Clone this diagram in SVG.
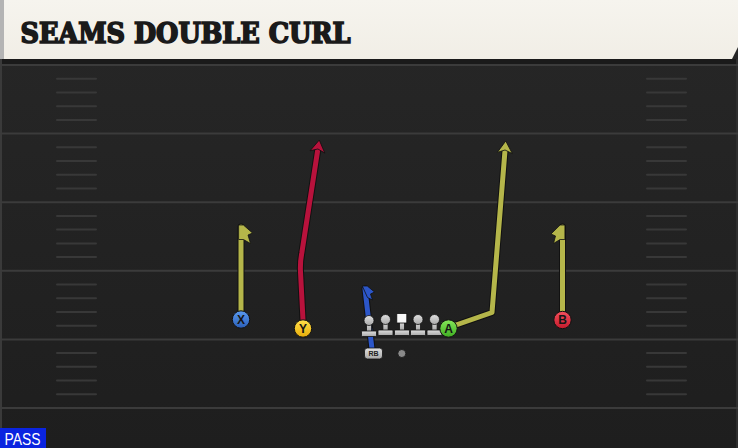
<svg xmlns="http://www.w3.org/2000/svg" width="738" height="448" viewBox="0 0 738 448">
<defs>
<style>
.yl{stroke:#3b3b3b;stroke-width:2}
.hm{stroke:#383838;stroke-width:2;stroke-linecap:round}
.out{fill:none;stroke:#111;stroke-width:7;stroke-linecap:round;stroke-linejoin:round}
.rt{fill:none;stroke-width:5;stroke-linecap:round;stroke-linejoin:round}
.ol{stroke:#b5b64a}
.rd{stroke:#b8123c}
.bl{stroke:#2c56c8}
.pl{stroke:#111;stroke-width:1}
.lt{font-family:"Liberation Sans",Arial,sans-serif;font-weight:bold;font-size:12px;fill:#151515;text-anchor:middle}
.flag{stroke:#111;stroke-width:0.8;stroke-linejoin:round}
</style>
<linearGradient id="field" x1="0" y1="0" x2="0" y2="1">
<stop offset="0" stop-color="#272727"/>
<stop offset="1" stop-color="#1e1e1e"/>
</linearGradient>
<linearGradient id="hdr" x1="0" y1="0" x2="0" y2="1">
<stop offset="0" stop-color="#f6f4ee"/>
<stop offset="1" stop-color="#f1eee6"/>
</linearGradient>
<linearGradient id="gX" x1="0" y1="0" x2="0" y2="1"><stop offset="0" stop-color="#5a9af0"/><stop offset="1" stop-color="#2b5fb8"/></linearGradient>
<linearGradient id="gY" x1="0" y1="0" x2="0" y2="1"><stop offset="0" stop-color="#ffe04a"/><stop offset="1" stop-color="#e8ad0a"/></linearGradient>
<linearGradient id="gA" x1="0" y1="0" x2="0" y2="1"><stop offset="0" stop-color="#86e65a"/><stop offset="1" stop-color="#3fae22"/></linearGradient>
<linearGradient id="gB" x1="0" y1="0" x2="0" y2="1"><stop offset="0" stop-color="#f5505e"/><stop offset="1" stop-color="#c41a2c"/></linearGradient>
<linearGradient id="gL" x1="0" y1="0" x2="0" y2="1"><stop offset="0" stop-color="#e0e0e0"/><stop offset="1" stop-color="#a8a8a8"/></linearGradient>
<marker id="arO" markerUnits="userSpaceOnUse" markerWidth="24" markerHeight="24" viewBox="-12 -12 24 24" refX="0" refY="0" orient="auto">
<path d="M7,0 L-5,-7.5 L-2,0 L-5,7.5 Z" fill="#b5b64a" stroke="#111" stroke-width="0.8" stroke-linejoin="round"/>
</marker>
<marker id="arR" markerUnits="userSpaceOnUse" markerWidth="24" markerHeight="24" viewBox="-12 -12 24 24" refX="0" refY="0" orient="auto">
<path d="M7,0 L-5,-7.5 L-2,0 L-5,7.5 Z" fill="#b8123c" stroke="#111" stroke-width="0.8" stroke-linejoin="round"/>
</marker>
<g id="lineman">
<rect x="-2.6" y="0" width="5.2" height="11" fill="url(#gL)" stroke="#111" stroke-width="0.8"/>
<rect x="-7.5" y="10" width="15" height="5.5" rx="1" fill="url(#gL)" stroke="#111" stroke-width="0.8"/>
<circle cx="0" cy="-0.5" r="5" fill="url(#gL)" stroke="#111" stroke-width="0.8"/>
</g>
</defs>

<!-- field -->
<rect x="0" y="0" width="738" height="448" fill="url(#field)"/>
<rect x="0" y="59" width="738" height="5" fill="#1a1a1a"/>
<rect x="0" y="59" width="2" height="389" fill="#3a3a3a"/>
<rect x="736" y="59" width="2" height="389" fill="#2e2e2e"/>

<g id="yardlines">
<line class="yl" x1="0" y1="65" x2="738" y2="65"/>
<line class="yl" x1="0" y1="133.6" x2="738" y2="133.6"/>
<line class="yl" x1="0" y1="202.2" x2="738" y2="202.2"/>
<line class="yl" x1="0" y1="270.8" x2="738" y2="270.8"/>
<line class="yl" x1="0" y1="339.4" x2="738" y2="339.4"/>
<line class="yl" x1="0" y1="408" x2="738" y2="408"/>
</g>
<g id="hashes">
<path class="hm" d="M57,78.7H96M57,92.4H96M57,106.2H96M57,119.9H96M57,147.3H96M57,161H96M57,174.8H96M57,188.5H96M57,215.9H96M57,229.6H96M57,243.4H96M57,257.1H96M57,284.5H96M57,298.2H96M57,312H96M57,325.7H96M57,353.1H96M57,366.8H96M57,380.6H96M57,394.3H96"/>
<path class="hm" d="M647,78.7H686M647,92.4H686M647,106.2H686M647,119.9H686M647,147.3H686M647,161H686M647,174.8H686M647,188.5H686M647,215.9H686M647,229.6H686M647,243.4H686M647,257.1H686M647,284.5H686M647,298.2H686M647,312H686M647,325.7H686M647,353.1H686M647,366.8H686M647,380.6H686M647,394.3H686"/>
</g>

<!-- header -->
<g id="header">
<path d="M0,0 H738 V47 L732,59 H0 Z" fill="url(#hdr)"/>
<rect x="0" y="0" width="4" height="59" fill="#b4b4b4"/>
<text x="20.5" y="42.5" font-family="'DejaVu Serif','Liberation Serif',serif" font-weight="bold" font-stretch="condensed" font-size="28" fill="#1a1a1a" stroke="#1a1a1a" stroke-width="1.6" stroke-linejoin="miter" textLength="330" lengthAdjust="spacingAndGlyphs">SEAMS DOUBLE CURL</text>
</g>

<!-- routes -->
<g id="connectors">
<g id="route-X">
<path class="out" d="M241,312 V227"/>
<path class="rt ol" d="M241,312 V227"/>
<polygon class="flag" fill="#b5b64a" points="238.6,225 243.4,225 252.5,233 248,235 250.5,243.5 243.4,239.5 238.6,239.5"/>
</g>
<g id="route-B">
<path class="out" d="M562.5,312 V227"/>
<path class="rt ol" d="M562.5,312 V227"/>
<polygon class="flag" fill="#b5b64a" points="564.9,225 560.1,225 551,234 555.5,236 553.5,243.5 560.1,239.5 564.9,239.5"/>
</g>
<g id="route-Y">
<path class="out" d="M303,320 L300.5,272 Q300,262 301.8,253 L318.2,147"/>
<path class="rt rd" d="M303,320 L300.5,272 Q300,262 301.8,253 L318.2,147" marker-end="url(#arR)"/>
</g>
<g id="route-A">
<path class="out" d="M456,325 L492,312.5 L505.2,148"/>
<path class="rt ol" d="M456,325 L492,312.5 L505.2,148" marker-end="url(#arO)"/>
</g>
<g id="route-RB">
<path class="out" d="M372,349 L365,289"/>
<path class="rt bl" d="M372,349 L365,289"/>
<polygon class="flag" fill="#2c56c8" points="362.3,286 367.3,286 374.5,292 370.5,294 372.5,300 367.5,297.5"/>
</g>
</g>

<!-- offensive line -->
<g id="ol-lt"><use href="#lineman" x="369" y="321"/></g>
<g id="ol-lg"><use href="#lineman" x="385.5" y="320"/></g>
<g id="ol-c">
<rect x="399.4" y="320" width="5.2" height="11" fill="url(#gL)" stroke="#111" stroke-width="0.8"/>
<rect x="394.5" y="330" width="15" height="5.5" rx="1" fill="url(#gL)" stroke="#111" stroke-width="0.8"/>
<rect x="396.8" y="313.5" width="10" height="9.5" fill="#f8f8f8" stroke="#111" stroke-width="0.8"/>
</g>
<g id="ol-rg"><use href="#lineman" x="418" y="320"/></g>
<g id="ol-rt"><use href="#lineman" x="434.5" y="320"/></g>

<!-- skill players -->
<g id="player-X"><circle cx="241" cy="319.5" r="8.7" fill="url(#gX)" class="pl"/><text class="lt" x="241" y="323.8">X</text></g>
<g id="player-Y"><circle cx="303" cy="328.5" r="8.7" fill="url(#gY)" class="pl"/><text class="lt" x="303" y="332.8">Y</text></g>
<g id="player-A"><circle cx="448.5" cy="328.5" r="8.7" fill="url(#gA)" class="pl"/><text class="lt" x="448.5" y="332.8">A</text></g>
<g id="player-B"><circle cx="562.5" cy="320" r="8.7" fill="url(#gB)" class="pl"/><text class="lt" x="562.5" y="324.3">B</text></g>
<g id="player-RB"><rect x="364.5" y="348" width="18" height="11" rx="3" fill="url(#gL)" stroke="#111" stroke-width="0.8"/><text x="373.5" y="356.3" font-family="'Liberation Sans',Arial,sans-serif" font-weight="bold" font-size="7" fill="#222" text-anchor="middle">RB</text></g>
<g id="player-QB"><circle cx="401.8" cy="353.5" r="4" fill="#8a8a8a" stroke="#111" stroke-width="0.8"/></g>

<!-- pass tag -->
<g id="pass-tag">
<rect x="0" y="428" width="46" height="20" fill="#0a24e0"/>
<text x="4.5" y="445" font-family="'Liberation Sans',Arial,sans-serif" font-size="16" fill="#ffffff" textLength="36" lengthAdjust="spacingAndGlyphs">PASS</text>
</g>
</svg>
